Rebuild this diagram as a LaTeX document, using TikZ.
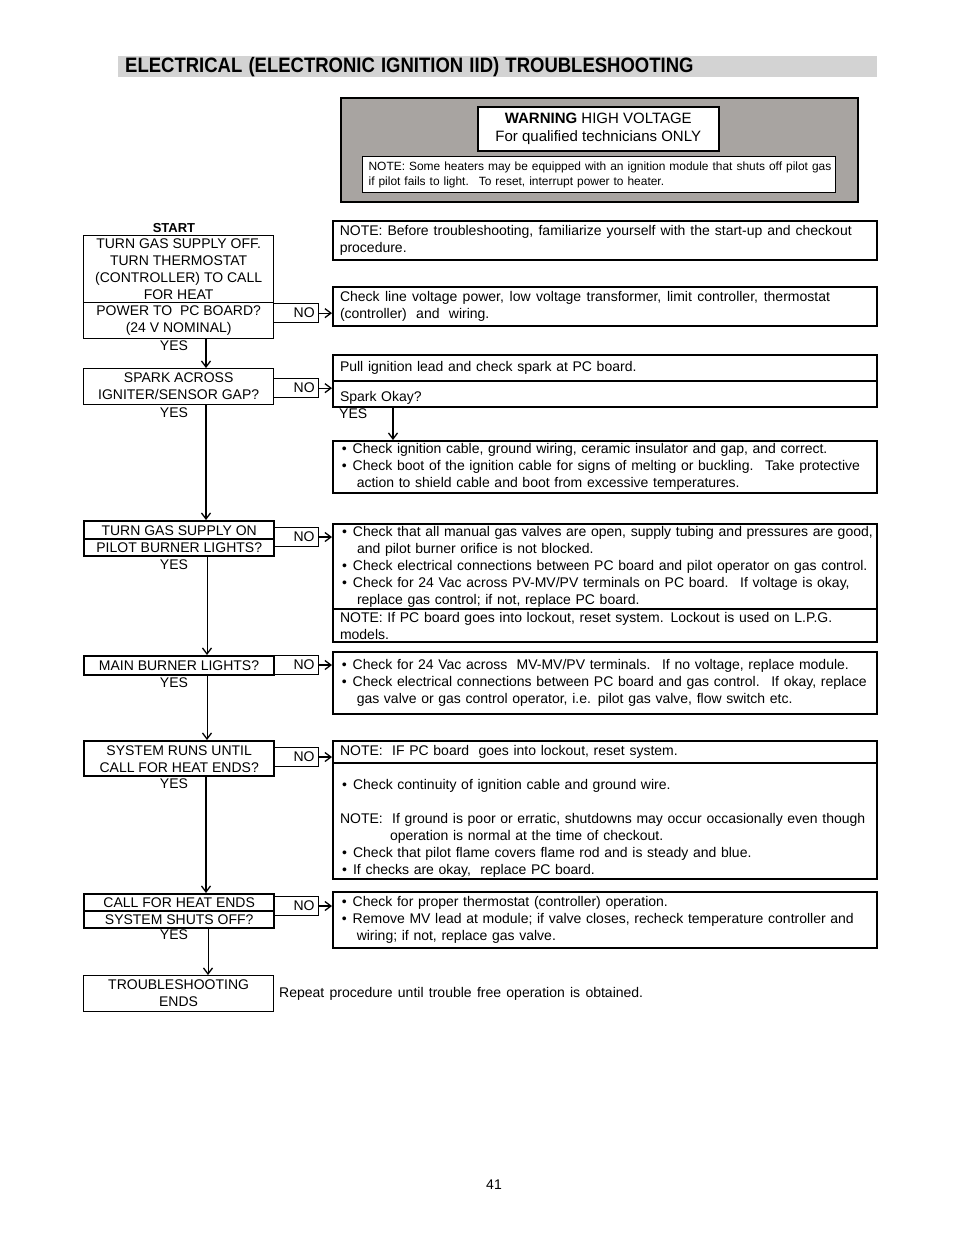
\documentclass[tikz,border=0pt]{standalone}
\usepackage{fontspec}
\setmainfont{Liberation Sans}
\usetikzlibrary{arrows.meta,calc}
\definecolor{titlegray}{HTML}{D3D3D3}
\definecolor{warngray}{HTML}{A8A4A1}
\newcommand\bul{\makebox[13pt][l]{\hspace{2pt}\textbullet}}
\newcommand\ind{\hspace*{17pt}}
\newcommand\jline[2]{\hbox to #1{\spaceskip=3.9pt plus 20pt\relax #2}}
\begin{document}
\begin{tikzpicture}[x=1pt,y=-1pt,
  every node/.style={inner sep=0pt},
  txt/.style={font=\fontsize{14}{17}\selectfont},
  lbox/.style={draw, txt, align=center, anchor=north west, minimum width=190pt, line width=1.3pt},
  thk/.style={line width=2.4pt},
  nobox/.style={draw, txt, anchor=north west, minimum width=45pt, minimum height=19pt, text width=37pt, align=right, inner xsep=4pt, line width=1pt},
  rbox/.style={draw, txt, anchor=north west, text width=530pt, inner xsep=7pt, align=left, line width=1.6pt},
  arr/.style={-{Straight Barb[length=6pt,width=9pt,line width=1.3pt]}},
  lbl/.style={txt}
]
\fill[white] (0,0) rectangle (954,1235);
\useasboundingbox (0,0) rectangle (954,1235);

% title
\node[fill=titlegray, anchor=north west, minimum width=759pt, minimum height=21pt, text width=745pt, inner xsep=7pt, align=left, font=\fontsize{18.5}{20}\selectfont\bfseries] (title) at (118,56) {\scalebox{1}[1.13]{ELECTRICAL (ELECTRONIC IGNITION IID) TROUBLESHOOTING}};

% warning panel
\node[draw, fill=warngray, line width=1.8pt, anchor=north west, minimum width=517pt, minimum height=104pt] (warn) at (340,97) {};
\node[draw, fill=white, line width=1.5pt, anchor=north west, minimum width=241pt, minimum height=44pt, align=center, font=\fontsize{15}{18.5}\selectfont] (wtxt) at (477,106) {\textbf{WARNING} HIGH VOLTAGE\\For qualified technicians ONLY};
\node[draw, fill=white, line width=1.2pt, anchor=north west, minimum width=473pt, minimum height=36pt, text width=461pt, inner xsep=6pt, align=left, font=\fontsize{11.95}{15}\selectfont] (wnote) at (362,156) {\mbox{NOTE: Some heaters may be equipped with an ignition module that shuts off pilot gas}\\if pilot fails to light.~ To reset, interrupt power to heater.};

% left column
\node[font=\fontsize{13}{15}\selectfont\bfseries] (start) at (174,228) {START};
\node[lbox, minimum height=67pt] (l1a) at (83,235) {TURN GAS SUPPLY OFF.\\TURN THERMOSTAT\\(CONTROLLER) TO CALL\\FOR HEAT};
\node[lbox, minimum height=36pt] (l1b) at (83,302) {POWER TO~ PC BOARD?\\(24 V NOMINAL)};
\node[lbl] (y1) at (174,346) {YES};
\node[lbox, minimum height=36pt] (l2) at (83,368) {SPARK ACROSS\\IGNITER/SENSOR GAP?};
\node[lbl] (y2) at (174,413) {YES};
\node[lbox, thk, minimum height=18pt] (l3a) at (83,520) {TURN GAS SUPPLY ON};
\node[lbox, thk, minimum height=17pt] (l3b) at (83,538) {PILOT BURNER LIGHTS?};
\node[lbl] (y3) at (174,565) {YES};
\node[lbox, line width=2pt, minimum height=19pt] (l4) at (83,655) {MAIN BURNER LIGHTS?};
\node[lbl] (y4) at (174,683) {YES};
\node[lbox, thk, minimum height=35pt] (l5) at (83,740) {SYSTEM RUNS UNTIL\\CALL FOR HEAT ENDS?};
\node[lbl] (y5) at (174,784) {YES};
\node[lbox, thk, minimum height=17pt] (l6a) at (83,893) {CALL FOR HEAT ENDS};
\node[lbox, thk, minimum height=17pt] (l6b) at (83,910) {SYSTEM SHUTS OFF?};
\node[lbl] (y6) at (174,935) {YES};
\node[lbox, line width=1.2pt, minimum height=36pt] (l7) at (83,975) {TROUBLESHOOTING\\ENDS};

% NO boxes
\node[nobox, line width=1.3pt] (n1) at (273,303) {NO};
\node[nobox, line width=1.3pt] (n2) at (273,378) {NO};
\node[nobox] (n3) at (273,527) {NO};
\node[nobox] (n4) at (273,655) {NO};
\node[nobox] (n5) at (273,747) {NO};
\node[nobox] (n6) at (273,896) {NO};

% right column
\node[rbox, minimum height=39pt, line width=1.5pt] (r1) at (332,220) {\jline{512pt}{NOTE: Before troubleshooting, familiarize yourself with the start-up and checkout}\\procedure.};
\node[rbox, minimum height=39pt, line width=2pt] (r2) at (332,286) {\jline{490pt}{Check line voltage power, low voltage transformer, limit controller, thermostat}\\(controller)~ and~ wiring.};
\node[rbox, minimum height=26pt, line width=2pt] (r3a) at (332,354) {Pull ignition lead and check spark at PC board.};
\node[rbox, minimum height=26pt, line width=2pt] (r3b) at (332,380) {\rule{0pt}{18pt}Spark Okay?};
\node[lbl, anchor=west] (y7) at (339,414) {YES};
\node[rbox, minimum height=52pt, line width=1.5pt] (r4) at (332,440) {\mbox{\bul Check ignition cable, ground wiring, ceramic insulator and gap, and correct.}\\\mbox{\bul Check boot of the ignition cable for signs of melting or buckling.~ Take protective}\\\ind action to shield cable and boot from excessive temperatures.};
\node[rbox, minimum height=85pt, line width=2pt] (r5a) at (332,523) {\mbox{\bul Check that all manual gas valves are open, supply tubing and pressures are good,}\\\ind and pilot burner orifice is not blocked.\\\mbox{\bul Check electrical connections between PC board and pilot operator on gas control.}\\\mbox{\bul Check for 24 Vac across PV-MV/PV terminals on PC board.~ If voltage is okay,}\\\ind replace gas control; if not, replace PC board.};
\node[rbox, minimum height=33pt, line width=2pt] (r5b) at (332,608) {\mbox{NOTE: If PC board goes into lockout, reset system. Lockout is used on L.P.G.}\\models.};
\node[rbox, minimum height=62pt, line width=1.5pt] (r6) at (332,651) {\mbox{\bul Check for 24 Vac across~ MV-MV/PV terminals.~ If no voltage, replace module.}\\\mbox{\bul Check electrical connections between PC board and gas control.~ If okay, replace}\\\ind gas valve or gas control operator, i.e. pilot gas valve, flow switch etc.};
\node[rbox, minimum height=22pt, line width=2.2pt] (r7a) at (332,740) {NOTE:~ IF PC board~ goes into lockout, reset system.};
\node[rbox, minimum height=116pt, line width=2.2pt] (r7b) at (332,762) {\mbox{}\\[7.5pt]\bul Check continuity of ignition cable and ground wire.\\[17pt]\mbox{NOTE:~ If ground is poor or erratic, shutdowns may occur occasionally even though}\\\hspace*{50pt}operation is normal at the time of checkout.\\\bul Check that pilot flame covers flame rod and is steady and blue.\\\bul If checks are okay,~ replace PC board.};
\node[rbox, minimum height=56pt, line width=1.5pt] (r8) at (332,891) {\bul Check for proper thermostat (controller) operation.\\\mbox{\bul Remove MV lead at module; if valve closes, recheck temperature controller and}\\\ind wiring; if not, replace gas valve.};

\node[txt, anchor=west] (rep) at (279,994) {\jline{364pt}{Repeat procedure until trouble free operation is obtained.}};
\node[txt] (page) at (494,1185) {41};

% connectors
\coordinate (va) at (206,0);
\coordinate (vb) at (207,0);
\coordinate (vc) at (208,0);
\coordinate (vd) at (393,0);
\draw[arr, line width=1.3pt] (l1b.south -| va) -- (l2.north -| va);
\draw[arr, line width=2pt] (l2.south -| va) -- (l3a.north -| va);
\draw[arr, line width=1pt] (l3b.south -| vb) -- (l4.north -| vb);
\draw[arr, line width=1pt] (l4.south -| vb) -- (l5.north -| vb);
\draw[arr, line width=2.2pt] (l5.south -| va) -- (l6a.north -| va);
\draw[arr, line width=1pt] (l6b.south -| vc) -- (l7.north -| vc);
\draw[arr, line width=1.8pt] (r3b.south -| vd) -- (r4.north -| vd);

\draw[arr, line width=1.2pt] (n1.east) -- (n1.east -| r2.west);
\draw[arr, line width=1.2pt] (n2.east) -- (n2.east -| r3b.west);
\draw[arr, line width=1.2pt] (n3.east) -- (n3.east -| r5a.west);
\draw[arr, line width=1.2pt] (n4.east) -- (n4.east -| r6.west);
\draw[arr, line width=1.2pt] (n5.east) -- (n5.east -| r7a.west);
\draw[arr, line width=1.2pt] (n6.east) -- (n6.east -| r8.west);
\end{tikzpicture}
\end{document}
